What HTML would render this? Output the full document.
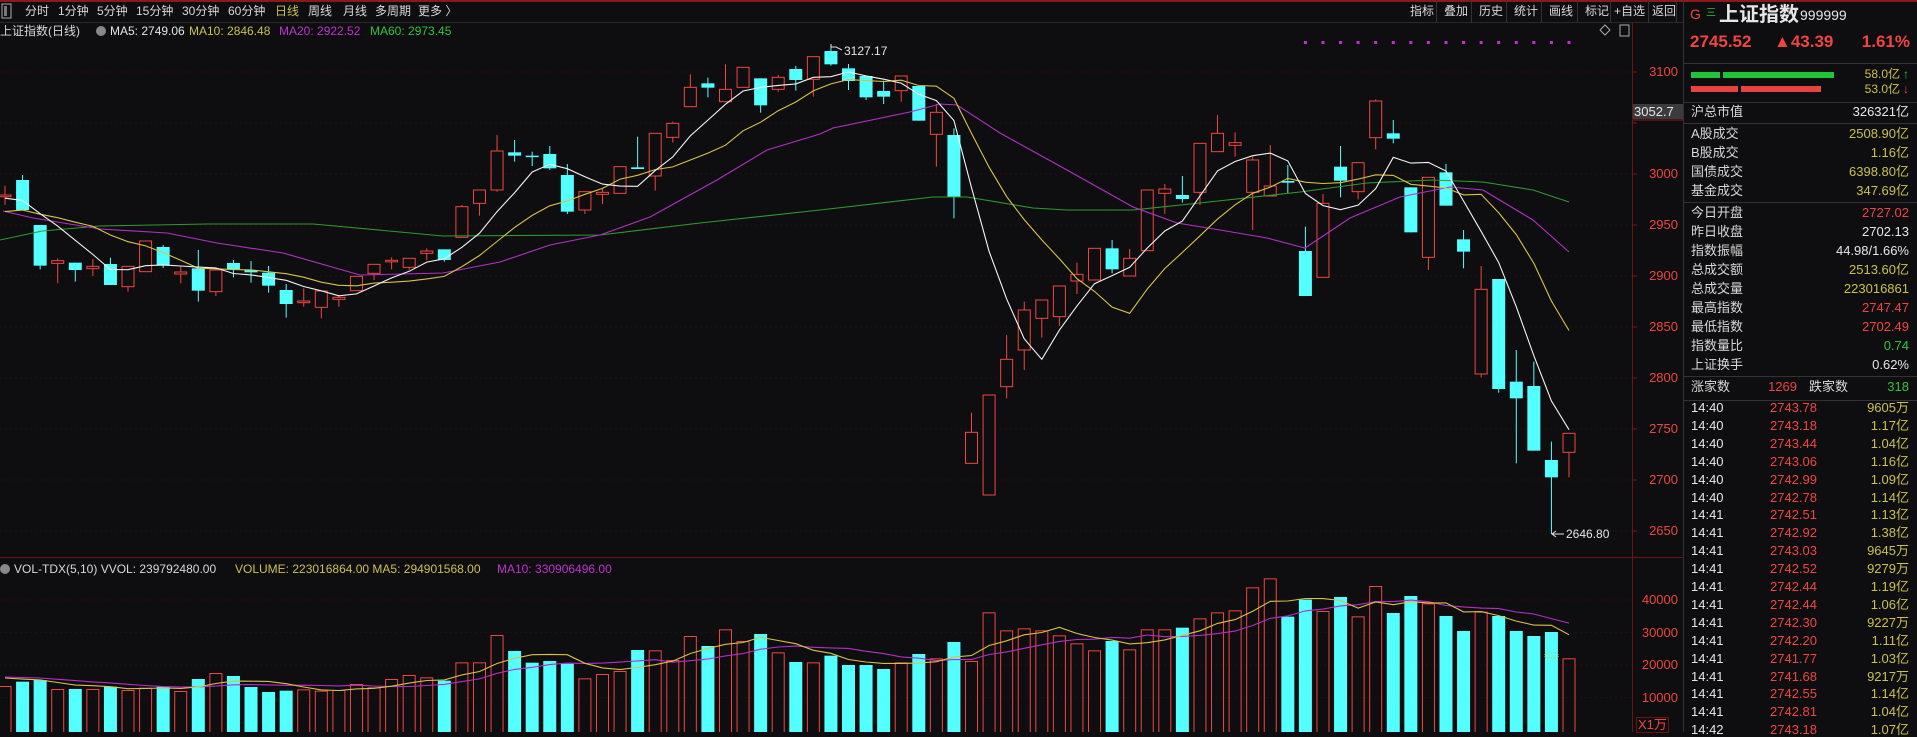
<!DOCTYPE html>
<html><head><meta charset="utf-8">
<style>
body{margin:0;background:#0e0e10;width:1917px;height:732px;overflow:hidden;font-family:"Liberation Sans","Noto Sans CJK SC",sans-serif;}
.t{position:absolute;white-space:nowrap;font-size:12px;line-height:14px;color:#d8d8d8;}
.r{color:#f0453f}.y{color:#c9c24b}.g{color:#2fc43a}.p{color:#c22fd0}.w{color:#e6e6e6}
.rt{text-align:right}
</style></head><body>
<svg id="s" width="1917" height="732" style="position:absolute;left:0;top:0" xmlns="http://www.w3.org/2000/svg"></svg>
<div id="txt"></div>
<script>
const S=document.getElementById('s');let h='';
h+='<rect x="0" y="0" width="1917" height="2" fill="#8a1a1a"/>';
h+='<line x1="0" y1="22.5" x2="1683" y2="22.5" stroke="#2a2a2a"/>';
// grid
const yp=p=>72+(3100-p)*1.02;
for(let p=2650;p<=3100;p+=50){h+=`<line x1="0" y1="${yp(p)}" x2="1632" y2="${yp(p)}" stroke="#2a0c0c" stroke-dasharray="2,3"/>`;h+=`<line x1="1632" y1="${yp(p)}" x2="1637" y2="${yp(p)}" stroke="#7a1a1a"/>`;}
[600,632.5,665,697.5].forEach(y=>{h+=`<line x1="0" y1="${y}" x2="1632" y2="${y}" stroke="#2a0c0c" stroke-dasharray="2,3"/>`;});
h+='<line x1="1632.5" y1="22" x2="1632.5" y2="732" stroke="#6a1414"/>';
h+='<line x1="0" y1="557.5" x2="1683" y2="557.5" stroke="#6a1414"/>';
h+='<line x1="1683.5" y1="0" x2="1683.5" y2="732" stroke="#333"/>';
const D=`r 465 470 437 495
c 420 510 405 510
c 555 677 555 688
r 662 670 655 730
c 668 690 668 725
r 679 686 657 708
c 672 735 653 735
r 679 740 679 755
r 603 695 603 695
c 621 677 615 684
r 696 702 680 730
c 685 752 630 785
r 690 755 690 768
c 669 688 660 712
c 690 697 663 728
c 698 737 678 758
c 750 792 732 833
r 783 788 745 800
r 753 802 753 835
r 772 778 765 800
r 709 752 709 752
r 673 700 673 720
r 661 665 652 688
r 655 682 655 690
r 633 640 625 660
c 628 660 628 665
r 500 592 495 592
r 450 490 450 527
r 333 450 285 455
c 337 347 300 365
c 347 350 335 378
c 342 385 318 390
c 405 515 372 522
r 455 510 455 522
r 457 463 445 492
r 380 460 380 460
c 382 387 290 387
r 280 408 280 452
r 250 292 245 308
r 142 200 103 200
c 130 143 113 172
r 148 185 73 185
r 82 142 82 142
c 115 196 115 218
r 112 148 105 155
c 87 120 78 152
r 50 118 50 170
c 33 73 12 77
c 85 123 72 150
c 108 172 108 180
c 153 170 122 192
r 108 152 108 185
c 138 242 138 242
r 217 283 192 380
c 285 470 265 535
r 1177 1270 1118 1270
r 1065 1365 1065 1365
r 958 1040 885 1075
r 810 930 785 990
r 780 835 780 893
r 738 830 738 858
r 703 723 668 762
r 625 720 625 720
c 625 688 600 700
r 655 708 627 708
r 450 632 450 632
r 447 460 432 522
c 465 477 408 488
r 310 457 310 495
r 280 335 225 335
r 308 316 277 350
r 360 457 350 570
r 438 468 315 468
c 423 428 375 460
c 633 768 560 768
r 490 712 462 712
c 380 422 318 472
r 368 455 368 478
r 183 293 178 328
c 280 296 240 310
c 442 577 442 577
r 412 652 412 690
c 397 497 372 497
c 598 635 570 685
r 748 1002 678 1012
c 717 1047 717 1058
c 1025 1075 930 1270
c 1038 1232 965 1232
c 1260 1312 1205 1482
r 1180 1237 1180 1312`.split('\n').map(l=>{const a=l.trim().split(' ');return [a[0],...a.slice(1).map(v=>+v/3+40)];});
const V=[393,380,375,402,402,402,395,405,398,395,408,372,354,363,396,411,407,403,407,405,387,397,372,360,367,377,322,322,240,288,323,318,326,370,357,348,285,286,315,243,273,223,258,237,292,321,322,302,330,330,342,322,297,310,261,318,172,226,220,226,241,265,286,258,283,223,223,218,190,172,166,97,70,185,134,168,126,184,93,174,123,145,183,228,170,183,228,243,231,310].map(v=>555+v/3);
const X=i=>5+i*17.573;
const RED='#f2453f',CY='#54ffff';
// volume bars
V.forEach((v,i)=>{const x=X(i),c=D[i][0];if(c=='c')h+=`<rect x="${x-6.5}" y="${v}" width="13" height="${732-v}" fill="${CY}"/>`;else h+=`<rect x="${x-6}" y="${v+.5}" width="12" height="${732-v}" fill="none" stroke="${RED}"/>`;});
// candles
D.forEach((d,i)=>{const x=X(i);let[c,t,b,hi,lo]=d;if(b-t<1.5)b=t+1.5;
 if(c=='c'){h+=`<line x1="${x}" y1="${hi}" x2="${x}" y2="${lo}" stroke="${CY}"/><rect x="${x-6.5}" y="${t}" width="13" height="${b-t}" fill="${CY}"/>`;}
 else{h+=`<line x1="${x}" y1="${hi}" x2="${x}" y2="${t}" stroke="${RED}"/><line x1="${x}" y1="${b}" x2="${x}" y2="${lo}" stroke="${RED}"/><rect x="${x-6}" y="${t}" width="12" height="${b-t}" fill="#0e0e10" stroke="${RED}"/>`;}});
const close=D.map(d=>d[0]=='r'?d[1]:d[2]);
function ma(arr,n,pre){const a=pre.concat(arr);const o=[];for(let i=0;i<arr.length;i++){let s=0;for(let k=0;k<n;k++)s+=a[pre.length+i-k];o.push(s/n);}return o;}
const pre=[225,225,225,225,225,199,199,199,199];
const pl=(pts,col)=>{h+=`<polyline points="${pts.map(p=>p[0].toFixed(1)+','+p[1].toFixed(1)).join(' ')}" fill="none" stroke="${col}" stroke-width="1.1"/>`;};
// MA60
pl([[0,240],[42,231],[100,226],[207,224],[313,224],[400,232],[443,236],[600,235],[700,223],[820,210],[933,197],[967,197],[1033,208],[1067,210],[1133,210],[1200,203],[1300,192],[1367,183],[1433,180],[1483,182],[1533,190],[1569,202]],'#2e9a2e');
// MA20
pl([[3,211],[33,218],[100,229],[167,233],[217,243],[283,253],[360,275],[443,273],[500,262],[550,245],[600,235],[650,217],[717,180],[767,150],[820,134],[833,128],[910,112],[940,104],[957,105],[1000,133],[1067,170],[1133,207],[1177,223],[1220,230],[1267,238],[1305,248],[1350,218],[1400,197],[1450,187],[1483,190],[1533,220],[1569,252]],'#b42fc8');
pl(ma(close,10,pre).map((v,i)=>[X(i),v]),'#d6c24a');
pl(ma(close,5,pre).map((v,i)=>[X(i),v]),'#f4f4f4');
const vp=[676,676,676,676,676,676,676,676,676];
pl(ma(V,10,vp).map((v,i)=>[X(i),v]),'#b42fc8');
pl(ma(V,5,vp).map((v,i)=>[X(i),v]),'#d6c24a');
h+=`<rect x="1545" y="653" width="13" height="5" fill="none" stroke="#c9c24b" stroke-dasharray="1,1"/>`;
// purple dots
for(let i=74;i<=89;i++)h+=`<rect x="${X(i)-1.5}" y="41" width="3" height="3" fill="#c22fd0"/>`;
// annotations
h+=`<polyline points="831,44 831,47 836,47 842,50" fill="none" stroke="#ddd"/>`;
h+=`<line x1="1552" y1="534" x2="1564" y2="534" stroke="#ddd"/><polyline points="1556,531 1552,534 1556,537" fill="none" stroke="#ddd"/>`;
// price box
h+=`<rect x="1633" y="104" width="50" height="15" fill="#3b3b3d"/><line x1="1633" y1="120" x2="1683" y2="120" stroke="#8a1a1a"/>`;
// right panel bars
h+=`<rect x="1691" y="72" width="29" height="6" fill="#1fc43a"/><rect x="1723" y="72" width="111" height="6" fill="#1fc43a"/>`;
h+=`<rect x="1691" y="86" width="47" height="6" fill="#e8443f"/><rect x="1741" y="86" width="80" height="6" fill="#e8443f"/>`;
[63,102,123,202,376,400].forEach(y=>h+=`<line x1="1684" y1="${y}.5" x2="1917" y2="${y}.5" stroke="#333"/>`);
// toolbar separators
[1436,1471,1506,1541,1577,1610,1648,1676].forEach(x=>h+=`<line x1="${x}.5" y1="0" x2="${x}.5" y2="22" stroke="#333"/>`);
h+=`<rect x="2" y="4" width="9" height="14" fill="none" stroke="#aaa"/><rect x="4" y="6" width="3" height="10" fill="#777"/>`;
h+=`<rect x="1620" y="25" width="9" height="11" fill="none" stroke="#aaa"/><polygon points="1605,25 1610,30 1605,35 1600,30" fill="none" stroke="#aaa"/>`;
h+=`<circle cx="101" cy="31" r="5" fill="#888"/><circle cx="5" cy="569" r="5" fill="#888"/>`;
S.innerHTML=h;
// text
let T='';const t=(x,y,s,c,ex)=>{T+=`<div class="t ${c||''}" style="left:${x}px;top:${y}px;${ex||''}">${s}</div>`;};
const tr=(x,y,s,c,ex)=>{T+=`<div class="t ${c||''}" style="right:${1917-x}px;top:${y}px;${ex||''}">${s}</div>`;};
[['分时',25],['1分钟',58],['5分钟',97],['15分钟',136],['30分钟',182],['60分钟',228],['日线',275],['周线',308],['月线',343],['多周期',375],['更多 〉',418]].forEach(a=>t(a[1],4,a[0],a[0]=='日线'?'y':''));
[['指标',1410],['叠加',1444],['历史',1479],['统计',1514],['画线',1549],['标记',1585],['+自选',1614],['返回',1652]].forEach(a=>t(a[1],4,a[0]));
t(0,24,'上证指数(日线)');t(110,24,'MA5: 2749.06','w');t(189,24,'MA10: 2846.48','y');t(279,24,'MA20: 2922.52','p');t(370,24,'MA60: 2973.45','g');
t(14,562,'VOL-TDX(5,10) VVOL: 239792480.00');t(235,562,'VOLUME: 223016864.00 MA5: 294901568.00','y');t(497,562,'MA10: 330906496.00','p');
t(844,44,'3127.17','w');t(1566,527,'2646.80','w');
for(let p=2650;p<=3100;p+=50){if(p!=3050)tr(1678,yp(p)-7,p,'r',"font-size:13px");}
t(1634,105,'3052.7','w',"font-size:13px");
[['40000',600],['30000',632.5],['20000',665],['10000',697.5]].forEach(a=>tr(1678,a[1]-7,a[0],'r',"font-size:13px"));
t(1636,717,'X1万','r',"font-size:13px;border:1px solid #6a1414;padding:0 1px");
// right panel
t(1690,7,'G','r','font-size:14px');t(1706,7,'三','g','font-size:10px');
t(1719,4,'上证指数','w','font-size:20px;line-height:22px;font-weight:bold');t(1800,8,'999999','w','font-size:14px');
t(1690,32,'2745.52','r','font-size:17px;line-height:20px;font-weight:bold');t(1774,32,'▲43.39','r','font-size:17px;line-height:20px;font-weight:bold');tr(1910,32,'1.61%','r','font-size:17px;line-height:20px;font-weight:bold');
tr(1900,67,'58.0亿','y');tr(1909,67,'↑','g');tr(1900,82,'53.0亿','y');tr(1909,82,'↓','r');
const rows=[['沪总市值','326321亿','w',105],['A股成交','2508.90亿','y',127],['B股成交','1.16亿','y',146],['国债成交','6398.80亿','y',165],['基金成交','347.69亿','y',184],
['今日开盘','2727.02','r',206],['昨日收盘','2702.13','w',225],['指数振幅','44.98/1.66%','w',244],['总成交额','2513.60亿','y',263],['总成交量','223016861','y',282],['最高指数','2747.47','r',301],['最低指数','2702.49','r',320],['指数量比','0.74','g',339],['上证换手','0.62%','w',358]];
rows.forEach(r=>{t(1691,r[3],r[0],'',"font-size:13px");tr(1909,r[3],r[1],r[2],"font-size:13px");});
t(1691,380,'涨家数','',"font-size:13px");tr(1797,380,'1269','r',"font-size:13px");t(1809,380,'跌家数','',"font-size:13px");tr(1909,380,'318','g',"font-size:13px");
const tk=[['14:40','2743.78','9605万'],['14:40','2743.18','1.17亿'],['14:40','2743.44','1.04亿'],['14:40','2743.06','1.16亿'],['14:40','2742.99','1.09亿'],['14:40','2742.78','1.14亿'],['14:41','2742.51','1.13亿'],['14:41','2742.92','1.38亿'],['14:41','2743.03','9645万'],['14:41','2742.52','9279万'],['14:41','2742.44','1.19亿'],['14:41','2742.44','1.06亿'],['14:41','2742.30','9227万'],['14:41','2742.20','1.11亿'],['14:41','2741.77','1.03亿'],['14:41','2741.68','9217万'],['14:41','2742.55','1.14亿'],['14:41','2742.81','1.04亿'],['14:42','2743.18','1.07亿']];
tk.forEach((r,i)=>{const y=401+i*17.9;t(1691,y,r[0],'w',"font-size:13px");tr(1817,y,r[1],'r',"font-size:13px");tr(1909,y,r[2],'y',"font-size:13px");});
document.getElementById('txt').innerHTML=T;
</script>
</body></html>
